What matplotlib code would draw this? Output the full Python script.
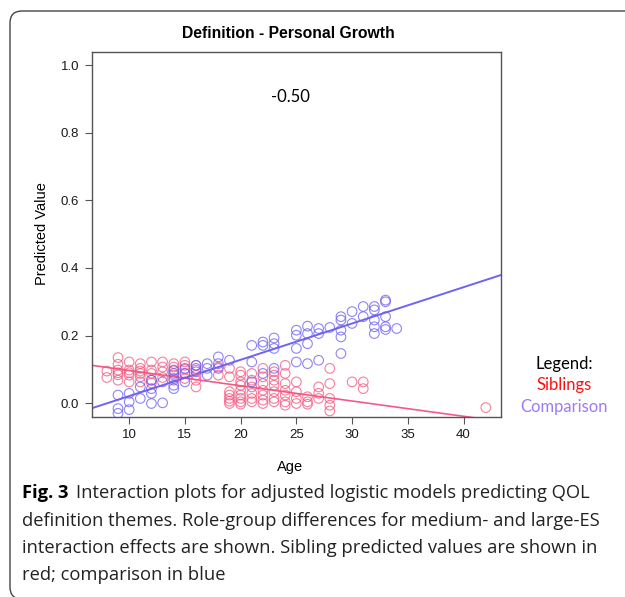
import matplotlib
matplotlib.use("Agg")
import matplotlib.pyplot as plt
import matplotlib.patches as mpatches
import matplotlib.transforms as mtransforms
import numpy as np

# Siblings (red) predicted values by age
sib_age = [8, 8,
           9, 9, 9, 9, 9, 9,
           10, 10, 10, 10, 10,
           11, 11, 11, 11, 11, 11,
           12, 12, 12, 12, 12,
           13, 13, 13, 13,
           14, 14, 14, 14, 14,
           15, 15, 15, 15, 15,
           16, 16, 16, 16, 16,
           18, 18,
           19, 19, 19, 19, 19, 19, 19,
           20, 20, 20, 20, 20, 20, 20, 20, 20,
           21, 21, 21, 21, 21, 21,
           22, 22, 22, 22, 22, 22, 22,
           23, 23, 23, 23, 23, 23, 23,
           24, 24, 24, 24, 24, 24, 24,
           25, 25, 25, 25,
           26, 26, 26,
           27, 27, 27,
           28, 28, 28, 28, 28,
           30, 31, 31, 42]
sib_val = [0.095, 0.076,
           0.135, 0.115, 0.098, 0.090, 0.084, 0.068,
           0.122, 0.098, 0.090, 0.083, 0.063,
           0.117, 0.103, 0.095, 0.088, 0.078, 0.063,
           0.122, 0.098, 0.088, 0.068, 0.060,
           0.122, 0.107, 0.093, 0.076,
           0.117, 0.107, 0.096, 0.083, 0.068,
           0.122, 0.112, 0.100, 0.088, 0.073,
           0.112, 0.098, 0.083, 0.068, 0.048,
           0.107, 0.083,
           0.103, 0.078, 0.034, 0.024, 0.014, 0.006, -0.001,
           0.093, 0.083, 0.063, 0.053, 0.038, 0.024, 0.014, 0.004, -0.003,
           0.088, 0.068, 0.048, 0.029, 0.014, 0.004,
           0.103, 0.078, 0.058, 0.038, 0.024, 0.009, -0.001,
           0.093, 0.083, 0.068, 0.053, 0.034, 0.014, 0.004,
           0.112, 0.088, 0.058, 0.038, 0.024, 0.004, -0.006,
           0.063, 0.034, 0.014, -0.001,
           0.019, 0.004, -0.003,
           0.048, 0.029, 0.014,
           0.103, 0.058, 0.014, -0.006, -0.023,
           0.063, 0.063, 0.043, -0.013]

# Comparison (blue) predicted values by age
cmp_age = [9, 9, 9,
           10, 10, 10,
           11, 11,
           12, 12, 12, 12,
           13, 13,
           14, 14, 14, 14, 14,
           15, 15, 15,
           16, 16, 16,
           17, 17, 17,
           18, 18, 18,
           19,
           21, 21, 21,
           22, 22, 22,
           23, 23, 23, 23,
           25, 25, 25, 25,
           26, 26, 26, 26,
           27, 27, 27,
           28,
           29, 29, 29, 29, 29,
           30, 30,
           31, 31,
           32, 32, 32, 32, 32,
           33, 33, 33, 33, 33,
           34]
cmp_val = [0.024, -0.016, -0.030,
           0.029, 0.004, -0.019,
           0.048, 0.014,
           0.068, 0.043, 0.029, -0.001,
           0.063, 0.001,
           0.098, 0.088, 0.073, 0.053, 0.043,
           0.103, 0.088, 0.063,
           0.112, 0.103, 0.093,
           0.117, 0.103, 0.083,
           0.137, 0.117, 0.103,
           0.127,
           0.171, 0.122, 0.063,
           0.181, 0.171, 0.088,
           0.193, 0.176, 0.162, 0.103,
           0.201, 0.216, 0.162, 0.122,
           0.228, 0.206, 0.176, 0.117,
           0.221, 0.206, 0.127,
           0.224,
           0.256, 0.246, 0.216, 0.196, 0.147,
           0.271, 0.236,
           0.286, 0.256,
           0.286, 0.276, 0.246, 0.226, 0.206,
           0.305, 0.300, 0.256, 0.226, 0.218,
           0.221]

# fitted lines (intercept, slope)
sib_fit = (0.142, -0.00452)
cmp_fit = (-0.0864, 0.01074)

title = "Definition - Personal Growth"
effect_label = "-0.50"

RED = "#f2557f"
BLUE = "#6a5cf0"

W, H = 625, 597
fig = plt.figure(figsize=(W / 100, H / 100), dpi=100)

def fy(y):
    return 1 - y / H

ax = fig.add_axes([91.7 / W, 1 - 416.7 / H, (501 - 91.7) / W, (416.7 - 51.7) / H])
ax.scatter(sib_age, sib_val, s=48, facecolors="none", edgecolors=RED, linewidths=0.8, alpha=0.75, zorder=3)
ax.scatter(cmp_age, cmp_val, s=48, facecolors="none", edgecolors=BLUE, linewidths=0.8, alpha=0.75, zorder=3)

xs = np.array([0, 50])
ax.plot(xs, sib_fit[0] + sib_fit[1] * xs, color="#f45a86", lw=1.2, zorder=2)
ax.plot(xs, cmp_fit[0] + cmp_fit[1] * xs, color="#6e64f2", lw=1.4, zorder=2)

ax.set_xlim(6.64, 43.36)
ax.set_ylim(-0.04, 1.04)
ax.set_xticks([10, 15, 20, 25, 30, 35, 40])
ax.set_yticks([0.0, 0.2, 0.4, 0.6, 0.8, 1.0])
ax.set_yticklabels(["0.0", "0.2", "0.4", "0.6", "0.8", "1.0"])
for s in ax.spines.values():
    s.set_color("#555555")
    s.set_linewidth(1.0)
ax.tick_params(colors="#555555", labelcolor="#1a1a1a", labelsize=9.5, length=5, width=0.8, pad=4)
for lab in ax.get_xticklabels() + ax.get_yticklabels():
    lab.set_family("Liberation Sans")

fig.text(288 / W, fy(34), title, fontsize=11.3, fontweight="bold", family="Liberation Sans",
         ha="center", va="center")
fig.text(290 / W, fy(467), "Age", fontsize=10.5, family="Liberation Sans", ha="center", va="center")
fig.text(42 / W, fy(234), "Predicted Value", fontsize=10.5, family="Liberation Sans",
         rotation=90, ha="center", va="center")

fig.text(290 / W, fy(97), effect_label, fontsize=12, family="Lato", ha="center", va="center")

fig.text(564 / W, fy(364), "Legend:", fontsize=12, family="Lato", ha="center", va="center")
fig.text(564 / W, fy(385), "Siblings", fontsize=12, family="Lato", color="#ff1010", ha="center", va="center")
fig.text(564 / W, fy(407), "Comparison", fontsize=12, family="Lato", color="#9a7cf8", ha="center", va="center")

caption = [
    "Interaction plots for adjusted logistic models predicting QOL",
    "definition themes. Role-group differences for medium- and large-ES",
    "interaction effects are shown. Sibling predicted values are shown in",
    "red; comparison in blue",
]
cap_y = [493, 521, 548, 575]
t = fig.text(22 / W, fy(cap_y[0]), "Fig. 3", fontsize=13.2, family="Open Sans", fontweight="bold", va="center")
fig.canvas.draw()
bb = t.get_window_extent()
fig.text((bb.x1 + 8) / W, fy(cap_y[0]), caption[0], fontsize=13.2, family="Open Sans", va="center", color="#222222")
for line, y in zip(caption[1:], cap_y[1:]):
    fig.text(22 / W, fy(y), line, fontsize=13.2, family="Open Sans", va="center", color="#222222")

border = mpatches.FancyBboxPatch((10, -2), 640, H - 11 + 2, boxstyle="round,pad=0,rounding_size=12",
                                 transform=mtransforms.IdentityTransform(), fill=False,
                                 edgecolor="#444444", linewidth=1.0)
fig.patches.append(border)

fig.savefig("out.png", dpi=100)
